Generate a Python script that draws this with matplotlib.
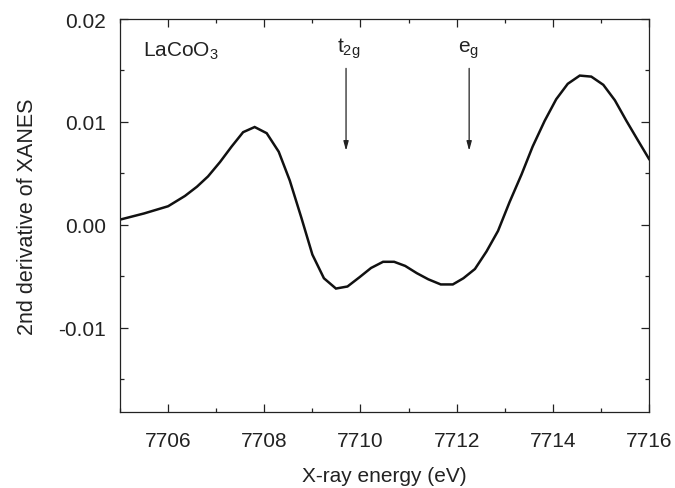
import matplotlib
matplotlib.use("Agg")
import matplotlib.pyplot as plt
from matplotlib.ticker import MultipleLocator, FixedFormatter, FixedLocator

plt.rcParams['font.family'] = ['Liberation Sans', 'DejaVu Sans']
plt.rcParams['mathtext.fontset'] = 'custom'
plt.rcParams['mathtext.rm'] = 'Liberation Sans'
plt.rcParams['mathtext.it'] = 'Liberation Sans:italic'
plt.rcParams['mathtext.default'] = 'regular'

energy = [7705.0, 7705.5, 7706.0, 7706.35, 7706.6, 7706.83, 7707.08, 7707.32, 7707.56,
          7707.8, 7708.05, 7708.3, 7708.53, 7708.77, 7709.0, 7709.24, 7709.49, 7709.73,
          7709.98, 7710.22, 7710.47, 7710.7, 7710.93, 7711.17, 7711.41, 7711.67, 7711.92,
          7712.14, 7712.38, 7712.62, 7712.86, 7713.1, 7713.35, 7713.58, 7713.83, 7714.07,
          7714.31, 7714.56, 7714.8, 7715.05, 7715.29, 7715.53, 7715.77, 7716.0]
deriv2 = [0.0005, 0.0011, 0.0018, 0.0028, 0.0037, 0.0047, 0.0061, 0.0076, 0.0090,
          0.0095, 0.0089, 0.0071, 0.0043, 0.0007, -0.0029, -0.0052, -0.0062, -0.0060,
          -0.0051, -0.0042, -0.0036, -0.0036, -0.0040, -0.0047, -0.0053, -0.0058, -0.0058,
          -0.0052, -0.0043, -0.0026, -0.0006, 0.0022, 0.0049, 0.0076, 0.0101, 0.0122,
          0.0137, 0.0145, 0.0144, 0.0136, 0.0121, 0.0101, 0.0082, 0.0064]

ytick_vals = [-0.01, 0.0, 0.01, 0.02]
ytick_labels = ["-0.01", "0.00", "0.01", "0.02"]
xtick_vals = [7706, 7708, 7710, 7712, 7714, 7716]

arrow_x = [7709.70, 7712.26]
arrow_labels = [r"t$_{2g}$", r"e$_g$"]
label_x = [7709.52, 7712.03]

fig = plt.figure(figsize=(6.75, 4.89), dpi=100)
ax = fig.add_axes([0.1778, 0.1554, 0.9615 - 0.1778, 0.9591 - 0.1554])

ax.plot(energy, deriv2, color='#111111', lw=1.8, solid_joinstyle='miter')

ax.set_xlim(7705, 7716)
ax.set_ylim(-0.0182, 0.02)

ax.xaxis.set_major_locator(FixedLocator(xtick_vals))
ax.xaxis.set_minor_locator(MultipleLocator(1))
ax.yaxis.set_major_locator(FixedLocator(ytick_vals))
ax.yaxis.set_major_formatter(FixedFormatter(ytick_labels))
ax.yaxis.set_minor_locator(MultipleLocator(0.005))

ax.tick_params(which='both', direction='in', top=True, right=True, width=0.9,
               colors='#222222', labelsize=15)
ax.tick_params(which='major', length=5.5)
ax.tick_params(which='minor', length=3)
ax.tick_params(axis='x', which='major', pad=13.5)
ax.tick_params(axis='y', which='major', pad=10)
for s in ax.spines.values():
    s.set_linewidth(0.9)
    s.set_color('#222222')

ax.set_xlabel("X-ray energy (eV)", fontsize=15, color='#222222', labelpad=12)
ax.set_ylabel("2nd derivative of XANES", fontsize=15.5, color='#222222', labelpad=15)

ax.text(7705.48, 0.0164, r"LaCoO$_3$", fontsize=15, color='#222222', va='baseline')

for xa, lab, lx in zip(arrow_x, arrow_labels, label_x):
    ax.text(lx, 0.0168, lab, fontsize=15, color='#222222', va='baseline')
    ax.annotate("", xy=(xa, 0.0072), xytext=(xa, 0.0152),
                arrowprops=dict(arrowstyle='-|>,head_length=0.55,head_width=0.15',
                                color='#222222', lw=0.9, shrinkA=0, shrinkB=0))

fig.savefig("out.png", dpi=100)
